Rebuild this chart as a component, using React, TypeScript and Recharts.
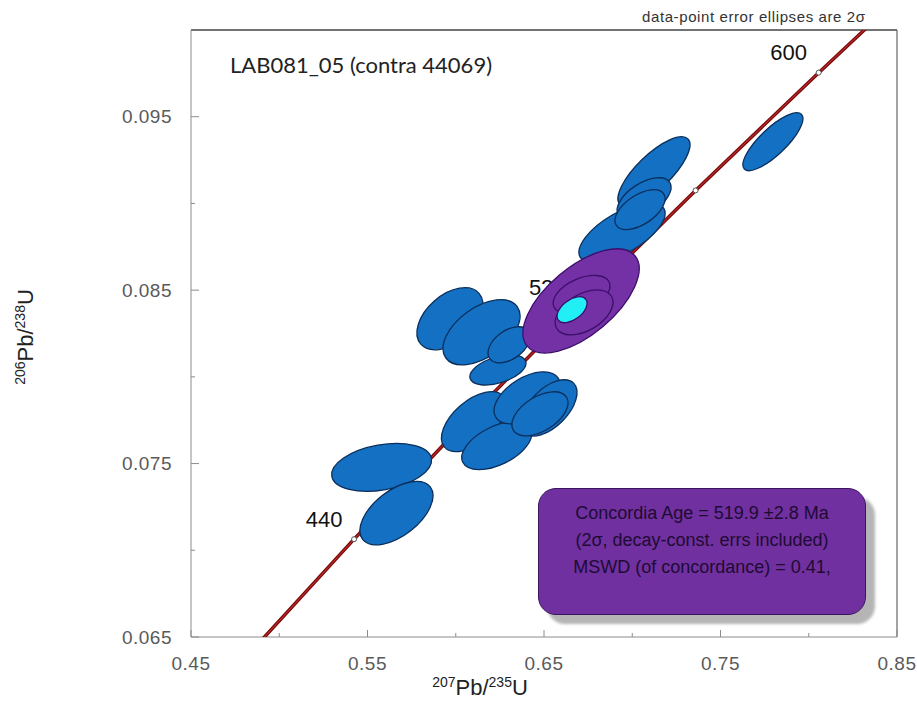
import React from 'react';
import { ScatterChart, Scatter, XAxis, YAxis, ReferenceLine } from 'recharts';

// axis ticks
const xMajor = [0.45, 0.55, 0.65, 0.75, 0.85];
const xTicks = [0.45, 0.5, 0.55, 0.6, 0.65, 0.7, 0.75, 0.8, 0.85];
const yMajor = [0.065, 0.075, 0.085, 0.095];
const yTicks = [0.065, 0.07, 0.075, 0.08, 0.085, 0.09, 0.095];

// concordia curve (207Pb/235U, 206Pb/238U) at given ages, Ma
const concordia = [
  { age: 400, x: 0.48281, y: 0.06402 },
  { age: 440, x: 0.54239, y: 0.07064 },
  { age: 480, x: 0.60436, y: 0.0773 },
  { age: 520, x: 0.66883, y: 0.08401 },
  { age: 560, x: 0.73588, y: 0.09075 },
  { age: 600, x: 0.80563, y: 0.09754 },
  { age: 620, x: 0.84155, y: 0.10096 },
];

const ageMarks = [
  { x: 0.54239, y: 0.07064, label: '440' },
  { x: 0.60436, y: 0.0773, label: '' },
  { x: 0.66883, y: 0.08401, label: '520' },
  { x: 0.73588, y: 0.09075, label: '' },
  { x: 0.80563, y: 0.09754, label: '600' },
];

// spot analyses: centre, 2-sigma errors and error correlation
const spots = [
  { x: 0.558, y: 0.07478, ex: 0.0283, ey: 0.00138, rho: 0.3 },
  { x: 0.5664, y: 0.07214, ex: 0.0207, ey: 0.00183, rho: 0.55 },
  { x: 0.6103, y: 0.07742, ex: 0.0184, ey: 0.00173, rho: 0.55 },
  { x: 0.6232, y: 0.07603, ex: 0.0198, ey: 0.00138, rho: 0.5 },
  { x: 0.6404, y: 0.07879, ex: 0.0187, ey: 0.0015, rho: 0.5 },
  { x: 0.6528, y: 0.07821, ex: 0.0159, ey: 0.00162, rho: 0.55 },
  { x: 0.6477, y: 0.07787, ex: 0.0159, ey: 0.00127, rho: 0.5 },
  { x: 0.5967, y: 0.08335, ex: 0.0187, ey: 0.00179, rho: 0.45 },
  { x: 0.6146, y: 0.08257, ex: 0.0218, ey: 0.00188, rho: 0.5 },
  { x: 0.6239, y: 0.0804, ex: 0.0159, ey: 0.00087, rho: 0.45 },
  { x: 0.6302, y: 0.08185, ex: 0.0119, ey: 0.00104, rho: 0.45 },
  { x: 0.6942, y: 0.08831, ex: 0.0244, ey: 0.00173, rho: 0.65 },
  { x: 0.7123, y: 0.09183, ex: 0.0204, ey: 0.00202, rho: 0.77 },
  { x: 0.7067, y: 0.09027, ex: 0.0153, ey: 0.00121, rho: 0.55 },
  { x: 0.7044, y: 0.08964, ex: 0.0142, ey: 0.00115, rho: 0.55 },
  { x: 0.7797, y: 0.09356, ex: 0.017, ey: 0.00167, rho: 0.8 },
];

const ageEllipses = [
  { x: 0.671, y: 0.08438, ex: 0.0329, ey: 0.003, rho: 0.62 },
  { x: 0.6713, y: 0.08475, ex: 0.0161, ey: 0.0011, rho: 0.45 },
  { x: 0.6727, y: 0.08372, ex: 0.0164, ey: 0.0013, rho: 0.45 },
];

const concordiaAge = [{ x: 0.6659, y: 0.08387, ex: 0.0085, ey: 0.00075, rho: 0.5 }];

const X_MIN = 0.45, X_MAX = 0.85, Y_MIN = 0.065, Y_MAX = 0.1;
const W = 917, H = 704;
const M = { top: 30, right: 20, left: 0, bottom: 0 };
const Y_W = 191, X_H = 67;
const KX = (W - M.left - M.right - Y_W) / (X_MAX - X_MIN);
const KY = (H - M.top - M.bottom - X_H) / (Y_MAX - Y_MIN);

const FONT = '"Liberation Sans", Arial, sans-serif';
const TICK_COLOR = '#5a5a5a';

function makeEllipse(fill: string, stroke: string) {
  return (props: any) => {
    const { cx, cy, payload } = props;
    const sx = payload.ex * KX;
    const sy = payload.ey * KY;
    const a = sx * sx, b = sy * sy, c = -payload.rho * sx * sy;
    const mid = (a + b) / 2;
    const d = Math.sqrt(((a - b) / 2) ** 2 + c * c);
    const r1 = Math.sqrt(mid + d);
    const r2 = Math.sqrt(Math.max(mid - d, 0));
    const ang = (0.5 * Math.atan2(2 * c, a - b) * 180) / Math.PI;
    return (
      <ellipse cx={cx} cy={cy} rx={r1} ry={r2} transform={`rotate(${ang} ${cx} ${cy})`}
        fill={fill} stroke={stroke} strokeWidth={1.3} />
    );
  };
}

const AgeMark = (props: any) => {
  const { cx, cy, payload } = props;
  return (
    <g>
      {payload.label && (
        <text x={cx - 30} y={cy - 20} textAnchor="middle" dominantBaseline="central"
          fontFamily={FONT} fontSize={22} fill="#111">{payload.label}</text>
      )}
      <circle cx={cx} cy={cy} r={2.5} fill="#fff" stroke="#555" strokeWidth={1} />
    </g>
  );
};

const XTick = (props: any) => {
  const { x, y, payload } = props;
  const major = xMajor.includes(payload.value);
  return (
    <g>
      <line x1={x} x2={x} y1={y} y2={y - (major ? 7 : 4)} stroke="#8c8c8c" />
      {major && (
        <text x={x} y={y + 26} textAnchor="middle" dominantBaseline="central"
          fontFamily={FONT} fontSize={19} letterSpacing={0.5} fill={TICK_COLOR}>{payload.value.toFixed(2)}</text>
      )}
    </g>
  );
};

const YTick = (props: any) => {
  const { x, y, payload } = props;
  const major = yMajor.includes(payload.value);
  return (
    <g>
      <line x1={x} x2={x + (major ? 8 : 4)} y1={y} y2={y} stroke="#8c8c8c" />
      {major && (
        <text x={x - 19} y={y} textAnchor="end" dominantBaseline="central"
          fontFamily={FONT} fontSize={19} letterSpacing={0.5} fill={TICK_COLOR}>{payload.value.toFixed(3)}</text>
      )}
    </g>
  );
};

const sup: React.CSSProperties = { fontSize: 14, verticalAlign: 'super', lineHeight: 0 };

export default function App() {
  return (
    <div style={{ position: 'absolute', left: 0, top: 0, width: W, height: H, background: '#fff', fontFamily: FONT }}>
      <ScatterChart width={W} height={H} margin={M}>
        <XAxis type="number" dataKey="x" domain={[X_MIN, X_MAX]} ticks={xTicks} interval={0}
          allowDataOverflow height={X_H} tickSize={0} tickMargin={0} tick={<XTick />}
          axisLine={{ stroke: '#8c8c8c' }} />
        <YAxis type="number" dataKey="y" domain={[Y_MIN, Y_MAX]} ticks={yTicks} interval={0}
          allowDataOverflow width={Y_W} tickSize={0} tickMargin={0} tick={<YTick />}
          axisLine={{ stroke: '#8c8c8c' }} />
        <ReferenceLine y={Y_MAX} stroke="#444" strokeWidth={1.5} />
        <ReferenceLine x={X_MAX} stroke="#666" strokeWidth={1.2} />
        <Scatter data={concordia} line={{ stroke: '#7a0d0d', strokeWidth: 3.5 }} shape={() => <g />}
          isAnimationActive={false} />
        <Scatter data={concordia} line={{ stroke: '#d83030', strokeWidth: 1 }} shape={() => <g />}
          isAnimationActive={false} />
        <Scatter data={ageMarks} shape={AgeMark} isAnimationActive={false} />
        <Scatter data={spots} shape={makeEllipse('#1370c2', '#0b2f5c')} isAnimationActive={false} />
        <Scatter data={ageEllipses} shape={makeEllipse('#7431a6', '#3c0f6a')} isAnimationActive={false} />
        <Scatter data={concordiaAge} shape={makeEllipse('#22eef5', '#3c0f6a')} isAnimationActive={false} />
      </ScatterChart>

      <div style={{ position: 'absolute', left: 230, top: 51, fontFamily: 'Lato, sans-serif', fontSize: 22, color: '#222', whiteSpace: 'nowrap' }}>
        LAB081_05 (contra 44069)
      </div>
      <div style={{ position: 'absolute', left: 642, top: 8, fontSize: 15, letterSpacing: 0.6, color: '#333', whiteSpace: 'nowrap' }}>
        data-point error ellipses are 2σ
      </div>

      <div style={{
        position: 'absolute', left: 538, top: 488, width: 328, height: 127, boxSizing: 'border-box',
        background: '#7030a0', border: '1.5px solid #3a1660', borderRadius: 18,
        boxShadow: '9px 9px 3px #b5b5b5', color: '#1e0b33', fontSize: 18, textAlign: 'center',
        lineHeight: '27px', paddingTop: 11,
      }}>
        <div>Concordia Age = 519.9 ±2.8 Ma</div>
        <div>(2σ, decay-const. errs included)</div>
        <div>MSWD (of concordance) = 0.41,</div>
      </div>

      <div style={{ position: 'absolute', left: 480, top: 688, transform: 'translate(-50%, -50%)', fontSize: 22, color: '#222', whiteSpace: 'nowrap' }}>
        <span style={sup}>207</span>Pb/<span style={sup}>235</span>U
      </div>
      <div style={{ position: 'absolute', left: 26, top: 337, transform: 'translate(-50%, -50%) rotate(-90deg)', fontSize: 22, color: '#222', whiteSpace: 'nowrap' }}>
        <span style={sup}>206</span>Pb/<span style={sup}>238</span>U
      </div>
    </div>
  );
}
